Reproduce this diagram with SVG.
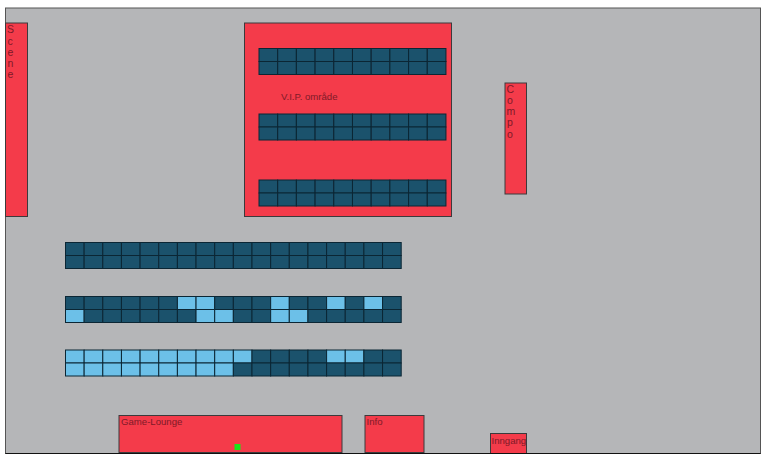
<svg xmlns="http://www.w3.org/2000/svg" width="768" height="458" viewBox="0 0 768 458">
<style>
.area{fill:#f43b4a;stroke:#3c3a3c;stroke-width:1}
text{font-family:"Liberation Sans",Arial,sans-serif;font-size:9.600px;fill:#7e1a28}
.v{font-size:10.500px}
.s{stroke:#0b2634;stroke-width:1}
.d{fill:#1b526c}
.l{fill:#6cc0e8}
</style>
<defs>
<rect id="a" class="s d" width="18.650" height="13"/>
<rect id="b" class="s l" width="18.650" height="13"/>
<g id="rv">
<use href="#a" x="0"/><use href="#a" x="18.700"/><use href="#a" x="37.400"/><use href="#a" x="56.100"/><use href="#a" x="74.800"/><use href="#a" x="93.500"/><use href="#a" x="112.200"/><use href="#a" x="130.900"/><use href="#a" x="149.600"/><use href="#a" x="168.300"/>
</g>
<g id="rowv"><use href="#rv"/><use href="#rv" y="13"/></g>
<g id="r18">
<use href="#a" x="0"/><use href="#a" x="18.650"/><use href="#a" x="37.300"/><use href="#a" x="55.950"/><use href="#a" x="74.600"/><use href="#a" x="93.250"/><use href="#a" x="111.900"/><use href="#a" x="130.550"/><use href="#a" x="149.200"/><use href="#a" x="167.850"/><use href="#a" x="186.500"/><use href="#a" x="205.150"/><use href="#a" x="223.800"/><use href="#a" x="242.450"/><use href="#a" x="261.100"/><use href="#a" x="279.750"/><use href="#a" x="298.400"/><use href="#a" x="317.050"/>
</g>
</defs>
<rect width="768" height="458" fill="#fff"/>
<rect id="floor" x="5.500" y="8" width="755" height="445.500" fill="#b5b6b8" stroke="#555" stroke-width="1"/>
<g id="scene"><rect class="area" x="5.500" y="23" width="22" height="193.500"/>
<text class="v" x="7" y="33">S</text><text class="v" x="7.500" y="44.500">c</text><text class="v" x="7.500" y="55.500">e</text><text class="v" x="7.500" y="66.500">n</text><text class="v" x="7.500" y="77.500">e</text></g>
<g id="vip"><rect class="area" x="244.500" y="23" width="207" height="193.500"/>
<text x="281" y="100">V.I.P. område</text></g>
<g id="compo"><rect class="area" x="505" y="83" width="21.500" height="111"/>
<text class="v" x="506.500" y="92.500">C</text><text class="v" x="507" y="103.500">o</text><text class="v" x="506.500" y="115">m</text><text class="v" x="507" y="126">p</text><text class="v" x="507" y="137.500">o</text></g>
<g id="game-lounge"><rect class="area" x="119" y="415.500" width="223" height="37"/>
<text x="121" y="425">Game-Lounge</text>
<rect x="234.500" y="444" width="6" height="6" fill="#19e619"/></g>
<g id="info"><rect class="area" x="365" y="415.500" width="59" height="37"/>
<text x="366.500" y="425">Info</text></g>
<g id="inngang"><rect class="area" x="490.500" y="433.500" width="36" height="20"/>
<text x="491.500" y="443.500">Inngang</text></g>
<path id="floor-edge" d="M5.500 453.500H760.500" stroke="#111" stroke-width="1"/>
<g id="vip-seats">
<use href="#rowv" x="259" y="48.500"/>
<use href="#rowv" x="259" y="114"/>
<use href="#rowv" x="259" y="180"/>
</g>
<g id="row-1" transform="translate(65.500 242.500)">
<use href="#r18"/><use href="#r18" y="13"/>
</g>
<g id="row-2" transform="translate(65.500 296.500)">
<use href="#a" x="0"/><use href="#a" x="18.650"/><use href="#a" x="37.300"/><use href="#a" x="55.950"/><use href="#a" x="74.600"/><use href="#a" x="93.250"/><use href="#b" x="111.900"/><use href="#b" x="130.550"/><use href="#a" x="149.200"/><use href="#a" x="167.850"/><use href="#a" x="186.500"/><use href="#b" x="205.150"/><use href="#a" x="223.800"/><use href="#a" x="242.450"/><use href="#b" x="261.100"/><use href="#a" x="279.750"/><use href="#b" x="298.400"/><use href="#a" x="317.050"/>
<g transform="translate(0 13)">
<use href="#b" x="0"/><use href="#a" x="18.650"/><use href="#a" x="37.300"/><use href="#a" x="55.950"/><use href="#a" x="74.600"/><use href="#a" x="93.250"/><use href="#a" x="111.900"/><use href="#b" x="130.550"/><use href="#b" x="149.200"/><use href="#a" x="167.850"/><use href="#a" x="186.500"/><use href="#b" x="205.150"/><use href="#b" x="223.800"/><use href="#a" x="242.450"/><use href="#a" x="261.100"/><use href="#a" x="279.750"/><use href="#a" x="298.400"/><use href="#a" x="317.050"/>
</g></g>
<g id="row-3" transform="translate(65.500 350)">
<use href="#b" x="0"/><use href="#b" x="18.650"/><use href="#b" x="37.300"/><use href="#b" x="55.950"/><use href="#b" x="74.600"/><use href="#b" x="93.250"/><use href="#b" x="111.900"/><use href="#b" x="130.550"/><use href="#b" x="149.200"/><use href="#b" x="167.850"/><use href="#a" x="186.500"/><use href="#a" x="205.150"/><use href="#a" x="223.800"/><use href="#a" x="242.450"/><use href="#b" x="261.100"/><use href="#b" x="279.750"/><use href="#a" x="298.400"/><use href="#a" x="317.050"/>
<g transform="translate(0 13)">
<use href="#b" x="0"/><use href="#b" x="18.650"/><use href="#b" x="37.300"/><use href="#b" x="55.950"/><use href="#b" x="74.600"/><use href="#b" x="93.250"/><use href="#b" x="111.900"/><use href="#b" x="130.550"/><use href="#b" x="149.200"/><use href="#a" x="167.850"/><use href="#a" x="186.500"/><use href="#a" x="205.150"/><use href="#a" x="223.800"/><use href="#a" x="242.450"/><use href="#a" x="261.100"/><use href="#a" x="279.750"/><use href="#a" x="298.400"/><use href="#a" x="317.050"/>
</g></g>
</svg>
